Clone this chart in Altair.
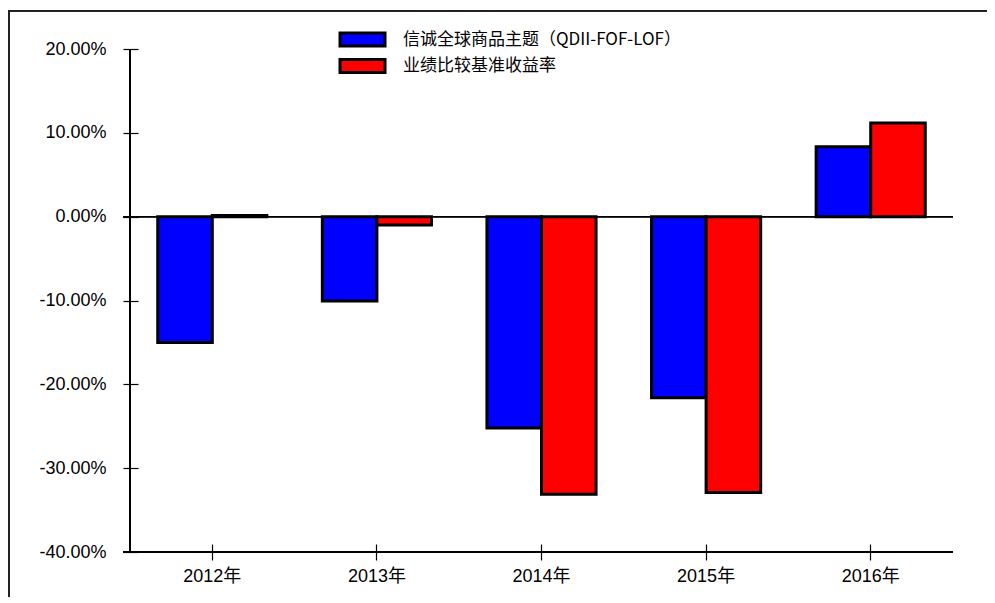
import altair as alt
import pandas as pd

years = ["2012年", "2013年", "2014年", "2015年", "2016年"]
series_names = ["信诚全球商品主题（QDII-FOF-LOF）", "业绩比较基准收益率"]
fund_returns = [-0.150, -0.1005, -0.252, -0.216, 0.0833]
bench_returns = [0.0015, -0.010, -0.331, -0.329, 0.1116]
y_ticks = [-0.4, -0.3, -0.2, -0.1, 0.0, 0.1, 0.2]
colors = ["#0000FF", "#FF0000"]

rows = []
for i, y in enumerate(years):
    rows.append({"year": y, "series": series_names[0], "value": fund_returns[i]})
    rows.append({"year": y, "series": series_names[1], "value": bench_returns[i]})
df = pd.DataFrame(rows)

W, H = 823, 503
LATIN = "Arial, 'Liberation Sans', 'Noto Sans CJK SC', sans-serif"
CJK = "'Noto Sans CJK SC', sans-serif"

x_enc = alt.X(
    "year:N",
    sort=years,
    scale=alt.Scale(paddingInner=0.337, paddingOuter=0.1685),
    axis=alt.Axis(
        title=None, domain=False, offset=-8, tickSize=16, tickColor="black",
        tickWidth=1.2, labelAngle=0, labelFont=LATIN, labelFontSize=18,
        labelColor="black", labelPadding=7, labelBaseline="top",
    ),
)
y_scale = alt.Scale(domain=[-0.4, 0.2], nice=False, zero=False)

bars = alt.Chart(df).mark_bar(stroke="black", strokeWidth=3).encode(
    x=x_enc,
    xOffset=alt.XOffset("series:N", sort=series_names),
    y=alt.Y(
        "value:Q",
        scale=y_scale,
        axis=alt.Axis(
            title=None, domain=False, grid=False, values=y_ticks, offset=-8,
            tickSize=15, tickColor="black", tickWidth=1.2, labelFont=LATIN,
            labelFontSize=18, labelColor="black", labelPadding=17,
            labelExpr="replace(format(datum.value, '.2%'), '\u2212', '-')",
        ),
    ),
    color=alt.Color(
        "series:N",
        scale=alt.Scale(domain=series_names, range=colors),
        legend=alt.Legend(
            title=None, orient="none", legendX=221, legendY=-21,
            direction="vertical", padding=0,
            symbolType="M-2.25,-0.65L2.25,-0.65L2.25,0.65L-2.25,0.65Z",
            symbolSize=400, symbolStrokeColor="black", symbolStrokeWidth=3,
            symbolOpacity=1, labelFont=CJK, labelFontSize=17,
            labelColor="black", labelOffset=29, rowPadding=1.5,
            labelLimit=600,
        ),
    ),
)

zero_line = alt.Chart(df).mark_rule(color="black", strokeWidth=1).encode(
    y=alt.datum(0, scale=y_scale), x=alt.value(-7), x2=alt.value(W)
)
y_axis_line = alt.Chart(df).mark_rule(color="black", strokeWidth=1.5).encode(
    x=alt.value(0), y=alt.value(0), y2=alt.value(H)
)
x_axis_line = alt.Chart(df).mark_rule(color="black", strokeWidth=1.5).encode(
    y=alt.value(H), x=alt.value(-7), x2=alt.value(W)
)
frame_top = alt.Chart(df).mark_rule(color="#222", strokeWidth=2).encode(
    y=alt.value(-38), x=alt.value(-122), x2=alt.value(W + 40)
)
frame_left = alt.Chart(df).mark_rule(color="#222", strokeWidth=2).encode(
    x=alt.value(-121), y=alt.value(-39), y2=alt.value(H + 45)
)

chart = alt.layer(
    zero_line, bars, y_axis_line, x_axis_line, frame_top, frame_left
).properties(
    width=W, height=H,
    autosize=alt.AutoSizeParams(type="none"),
    padding={"left": 122, "top": 41, "right": 34, "bottom": 45},
    background="white",
).configure_view(stroke=None)

chart.save("out.html", embed_options={"renderer": "svg", "actions": False})
